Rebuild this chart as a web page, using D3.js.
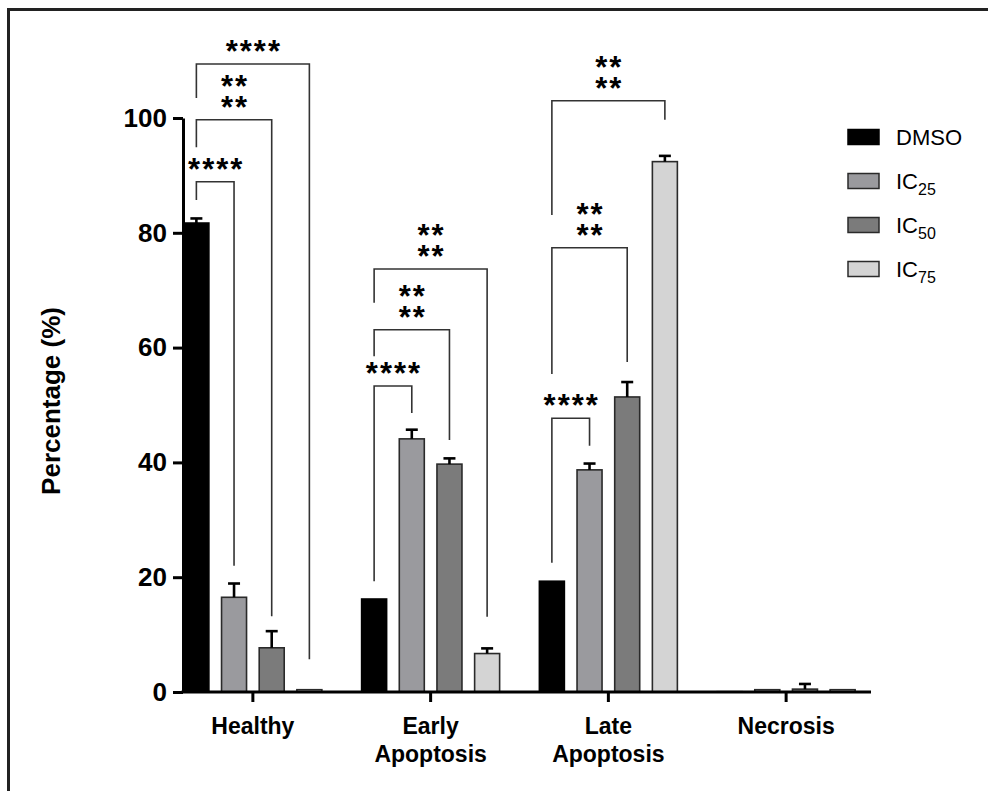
<!DOCTYPE html>
<html>
<head>
<meta charset="utf-8">
<script src="https://cdn.jsdelivr.net/npm/d3@7"></script>
<style>
  html, body { margin: 0; padding: 0; background: #fff; }
  svg { display: block; }
  text { font-family: "Liberation Sans", Arial, Helvetica, sans-serif; }
  .sig { font-family: "Liberation Sans", Arial, Helvetica, sans-serif; font-weight: bold;
         font-size: 31px; line-height: 21px; letter-spacing: 2px; text-align: center;
         color: #000; margin: 0; padding: 0; white-space: nowrap; }
</style>
</head>
<body>
<svg id="chart" width="988" height="791"></svg>
<script>
// ---------- data ----------
const categories = ["Healthy", "Early Apoptosis", "Late Apoptosis", "Necrosis"];
const categoryLines = [["Healthy"], ["Early", "Apoptosis"], ["Late", "Apoptosis"], ["Necrosis"]];
const seriesNames = ["DMSO", "IC25", "IC50", "IC75"];
const seriesLabelMain = ["DMSO", "IC", "IC", "IC"];
const seriesLabelSub = ["", "25", "50", "75"];

const dmsoValues = [81.7, 16.2, 19.3, 0.05];
const dmsoErrors = [0.8, 0, 0, 0];
const ic25Values = [16.5, 44.1, 38.7, 0.4];
const ic25Errors = [2.4, 1.6, 1.1, 0];
const ic50Values = [7.7, 39.7, 51.4, 0.5];
const ic50Errors = [2.9, 1.0, 2.6, 0.9];
const ic75Values = [0.4, 6.7, 92.4, 0.4];
const ic75Errors = [0, 0.9, 1.0, 0];

const yTicks = [0, 20, 40, 60, 80, 100];

// significance brackets: category, compared series, bracket level, left-leg end, right-leg end (all in %)
const bracketCategory = ["Healthy", "Healthy", "Healthy", "Early Apoptosis", "Early Apoptosis", "Early Apoptosis", "Late Apoptosis", "Late Apoptosis", "Late Apoptosis"];
const bracketTarget = ["IC25", "IC50", "IC75", "IC25", "IC50", "IC75", "IC25", "IC50", "IC75"];
const bracketLevel = [88.9, 99.7, 109.4, 53.3, 63.1, 73.7, 47.7, 77.4, 103.0];
const bracketLeftEnd = [85.7, 94.9, 103.5, 19.3, 58.5, 67.8, 22.5, 55.4, 83.1];
const bracketRightEnd = [22.0, 13.2, 5.7, 48.6, 43.9, 13.1, 42.9, 57.5, 99.7];
const bracketLabel = [["****"], ["**", "**"], ["****"], ["****"], ["**", "**"], ["**", "**"], ["****"], ["**", "**"], ["**", "**"]];

// ---------- build ----------
const values = [dmsoValues, ic25Values, ic50Values, ic75Values];
const errors = [dmsoErrors, ic25Errors, ic50Errors, ic75Errors];
const fills = ["#000000", "#9a9a9e", "#7b7b7b", "#d4d4d4"];
const strokes = ["#000000", "#2a2a2a", "#2a2a2a", "#2a2a2a"];

const svg = d3.select("#chart");

// frame
svg.append("rect").attr("x", 8.5).attr("y", 9.5).attr("width", 1000).attr("height", 800)
  .attr("fill", "none").attr("stroke", "#222").attr("stroke-width", 3);

const x0 = 183, xEnd = 871, yBase = 692, yTop = 118;
const y = d3.scaleLinear().domain([0, 100]).range([yBase, yTop]);
const xCat = d3.scaleBand().domain(categories).range([164, 875]).padding(0);
const xSer = d3.scalePoint().domain(seriesNames).range([-56.5, 56.5]);
const barW = 25;
const cx = (cat, ser) => xCat(cat) + xCat.bandwidth() / 2 + xSer(ser);

// bars
const barData = [];
categories.forEach((c, i) => seriesNames.forEach((s, j) => {
  barData.push({ c, s, j, v: values[j][i], e: errors[j][i] });
}));

const gBars = svg.append("g");
gBars.selectAll("rect").data(barData).join("rect")
  .attr("x", d => cx(d.c, d.s) - barW / 2)
  .attr("y", d => y(d.v))
  .attr("width", barW)
  .attr("height", d => Math.max(0, y(0) - y(d.v)))
  .attr("fill", d => fills[d.j])
  .attr("stroke", d => strokes[d.j])
  .attr("stroke-width", 1.6);

// error bars (upward only)
const gErr = svg.append("g").attr("stroke", "#000").attr("stroke-width", 2.6);
barData.filter(d => d.e > 0).forEach(d => {
  const xc = cx(d.c, d.s);
  gErr.append("line").attr("x1", xc).attr("x2", xc).attr("y1", y(d.v)).attr("y2", y(d.v + d.e));
  gErr.append("line").attr("x1", xc - 6).attr("x2", xc + 6).attr("y1", y(d.v + d.e)).attr("y2", y(d.v + d.e));
});

// y axis
const yAxis = d3.axisLeft(y).tickValues(yTicks).tickSize(10).tickPadding(6).tickSizeOuter(0);
const gy = svg.append("g").attr("transform", `translate(${x0},0)`).call(yAxis);
gy.select(".domain").attr("stroke", "#000").attr("stroke-width", 3);
gy.selectAll(".tick line").attr("stroke", "#000").attr("stroke-width", 3);
gy.selectAll(".tick text").attr("font-size", 26).attr("font-weight", "bold").attr("fill", "#000")
  .attr("font-family", "'Liberation Sans', Arial, sans-serif");

// x axis
const gx = svg.append("g").attr("transform", `translate(0,${yBase})`);
gx.append("line").attr("x1", x0 - 1.5).attr("x2", xEnd).attr("y1", 0).attr("y2", 0)
  .attr("stroke", "#000").attr("stroke-width", 3);
categories.forEach((c, i) => {
  const xc = xCat(c) + xCat.bandwidth() / 2;
  gx.append("line").attr("x1", xc).attr("x2", xc).attr("y1", 0).attr("y2", 10)
    .attr("stroke", "#000").attr("stroke-width", 3);
  const t = gx.append("text").attr("text-anchor", "middle").attr("font-size", 23)
    .attr("font-weight", "bold").attr("fill", "#000");
  categoryLines[i].forEach((ln, k) => {
    t.append("tspan").attr("x", xc).attr("y", 42 + k * 28).text(ln);
  });
});

// y title
svg.append("text").attr("transform", "translate(60,401) rotate(-90)")
  .attr("text-anchor", "middle").attr("font-size", 26).attr("font-weight", "bold")
  .attr("fill", "#000").text("Percentage (%)");

// brackets
const gBr = svg.append("g");
bracketCategory.forEach((c, i) => {
  const xl = cx(c, "DMSO"), xr = cx(c, bracketTarget[i]);
  const yl = y(bracketLevel[i]);
  gBr.append("path")
    .attr("d", `M${xl},${y(bracketLeftEnd[i])}V${yl}H${xr}V${y(bracketRightEnd[i])}`)
    .attr("fill", "none").attr("stroke", "#333").attr("stroke-width", 1.6);
  const lines = bracketLabel[i];
  const xm = (xl + xr) / 2;
  const n = lines.length;
  const top = yl - 23 - (n - 1) * 21;
  const fo = gBr.append("foreignObject")
    .attr("x", xm - 70 + 1).attr("y", top).attr("width", 140).attr("height", n * 21)
    .style("overflow", "visible");
  fo.append("xhtml:div").attr("class", "sig").html(lines.join("<br>"));
});

// legend
const gLeg = svg.append("g");
seriesNames.forEach((s, j) => {
  const cy = 137 + j * 44;
  gLeg.append("rect").attr("x", 848).attr("y", cy - 7.5).attr("width", 31).attr("height", 15)
    .attr("fill", fills[j]).attr("stroke", strokes[j]).attr("stroke-width", 1.5);
  const t = gLeg.append("text").attr("x", 896).attr("y", cy + 8).attr("font-size", 22).attr("fill", "#000");
  t.append("tspan").text(seriesLabelMain[j]);
  if (seriesLabelSub[j]) {
    t.append("tspan").attr("font-size", 16).attr("dy", 6).text(seriesLabelSub[j]);
  }
});
</script>
</body>
</html>
